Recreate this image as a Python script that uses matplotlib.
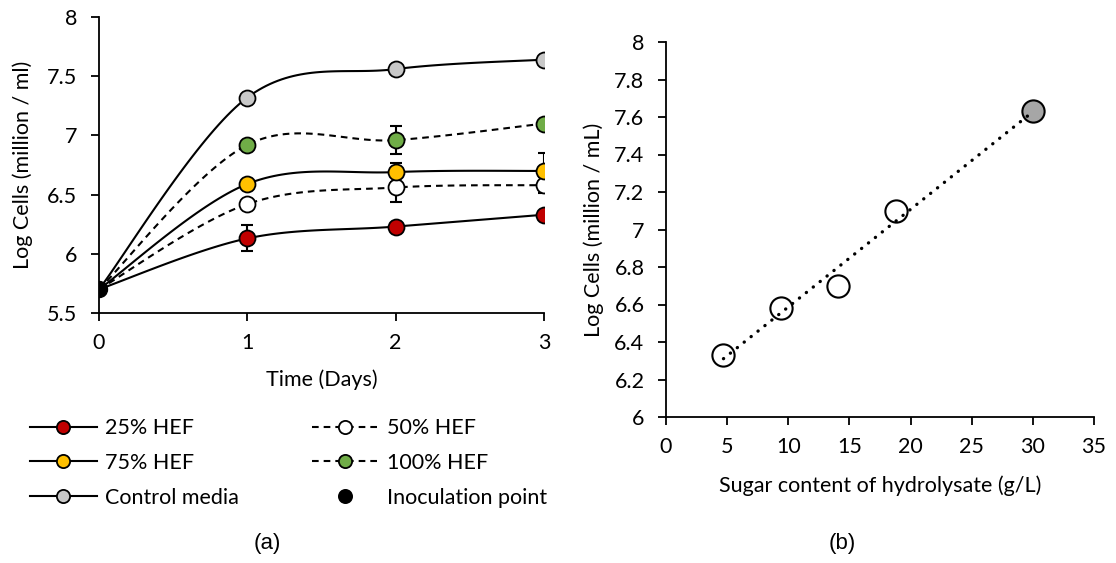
import numpy as np
import matplotlib
matplotlib.use("Agg")
import matplotlib.pyplot as plt
from matplotlib.lines import Line2D

plt.rcParams['font.family'] = ['Lato', 'DejaVu Sans']

# ---------------- data (panel a) ----------------
days = [0, 1, 2, 3]
hef25 = [5.70, 6.13, 6.23, 6.33]
hef50 = [5.70, 6.42, 6.56, 6.58]
hef75 = [5.70, 6.59, 6.69, 6.70]
hef100 = [5.70, 6.92, 6.96, 7.10]
control = [5.70, 7.32, 7.56, 7.64]
err25 = [0, 0.11, 0.02, 0.02]
err50 = [0, 0.03, 0.12, 0.07]
err75 = [0, 0.02, 0.08, 0.15]
err100 = [0, 0.02, 0.12, 0.02]
errctrl = [0, 0.02, 0.03, 0.03]
inoc_day = [0]
inoc_val = [5.70]
labels_a = ["25% HEF", "50% HEF", "75% HEF", "100% HEF", "Control media", "Inoculation point"]

# ---------------- data (panel b) ----------------
sugar = [4.7, 9.4, 14.1, 18.8, 30.0]
logcells = [6.33, 6.58, 6.70, 7.10, 7.63]

FS = 15.5
BLACK = '#000000'


def smooth(xs, ys, n=40):
    pts = np.column_stack([xs, ys]).astype(float)
    P = np.vstack([pts[0], pts, pts[-1]])
    out = []
    t = np.linspace(0, 1, n)[:, None]
    for i in range(len(pts) - 1):
        p0, p1, p2, p3 = P[i], P[i + 1], P[i + 2], P[i + 3]
        c1 = p1 + (p2 - p0) / 6.0
        c2 = p2 - (p3 - p1) / 6.0
        seg = ((1 - t) ** 3) * p1 + 3 * ((1 - t) ** 2) * t * c1 + 3 * (1 - t) * t ** 2 * c2 + t ** 3 * p2
        out.append(seg if i == 0 else seg[1:])
    s = np.vstack(out)
    return s[:, 0], s[:, 1]


fig = plt.figure(figsize=(11.16, 5.63), dpi=100)
axA = fig.add_axes([99 / 1116, 1 - 313 / 563, 445 / 1116, 296 / 563])
axB = fig.add_axes([666 / 1116, 1 - 417 / 563, 428 / 1116, 375 / 563])

DASH = (0, (3.2, 2.4))
series = [
    (hef25, err25, '#C00000', '-'),
    (hef50, err50, '#FFFFFF', DASH),
    (hef75, err75, '#FFC000', '-'),
    (hef100, err100, '#70AD47', DASH),
    (control, errctrl, '#C8C8C8', '-'),
]
for vals, err, col, ls in series:
    sx, sy = smooth(days, vals)
    axA.plot(sx, sy, color=BLACK, lw=1.5, ls=ls, zorder=2)
for vals, err, col, ls in series:
    ecol = '#4472C4' if col == '#C8C8C8' else BLACK
    axA.errorbar(days[1:], vals[1:], yerr=err[1:], fmt='none', ecolor=ecol,
                 elinewidth=1.5, capsize=4, capthick=1.5, zorder=3)
    axA.plot(days[1:], vals[1:], ls='none', marker='o', ms=11.5, mfc=col,
             mec=BLACK, mew=1.3, zorder=4)
axA.plot(inoc_day, inoc_val, ls='none', marker='o', ms=11.5, mfc=BLACK, mec=BLACK, zorder=5)

axA.set_xlim(0, 3)
axA.set_ylim(5.5, 8)
axA.set_xticks([0, 1, 2, 3])
axA.set_yticks(np.arange(5.5, 8.01, 0.5))
axA.set_yticklabels([f"{v:g}" for v in np.arange(5.5, 8.01, 0.5)])
axA.set_xlabel("Time (Days)", fontsize=FS, labelpad=12)
axA.set_ylabel("Log Cells (million / ml)", fontsize=FS, labelpad=10)

# panel b
axB.plot(sugar[:-1], logcells[:-1], ls='none', marker='o', ms=16, mfc='white',
         mec=BLACK, mew=1.5, zorder=3)
axB.plot(sugar[-1:], logcells[-1:], ls='none', marker='o', ms=16, mfc='#A6A6A6',
         mec=BLACK, mew=1.5, zorder=3)
coef = np.polyfit(sugar, logcells, 1)
tx = np.array([min(sugar), max(sugar)])
axB.plot(tx, np.polyval(coef, tx), color=BLACK, lw=2.4, ls=(0, (0.05, 2.6)),
         dash_capstyle='round', zorder=4)
axB.set_xlim(0, 35)
axB.set_ylim(6, 8)
axB.set_xticks(np.arange(0, 36, 5))
yt = np.round(np.arange(6, 8.01, 0.2), 1)
axB.set_yticks(yt)
axB.set_yticklabels([f"{v:g}" for v in yt])
axB.set_xlabel("Sugar content of hydrolysate (g/L)", fontsize=FS, labelpad=13)
axB.set_ylabel("Log Cells (million / mL)", fontsize=FS, labelpad=7)

for ax in (axA, axB):
    for s in ('top', 'right'):
        ax.spines[s].set_visible(False)
    for s in ('left', 'bottom'):
        ax.spines[s].set_linewidth(1.3)
        ax.spines[s].set_color(BLACK)
    ax.tick_params(direction='out', length=5.5, width=1.3, labelsize=FS, colors=BLACK)
    ax.tick_params(axis='x', pad=9)
    ax.tick_params(axis='y', pad=10)
    ax.patch.set_alpha(0)

# legend
def h(col, ls, line=True):
    return Line2D([0], [0], color=BLACK, lw=1.5 if line else 0, ls=ls if line else 'none',
                  marker='o', ms=9.5, mfc=col, mec=BLACK, mew=1.3)

h1 = [h('#C00000', '-'), h('#FFC000', '-'), h('#C8C8C8', '-')]
l1 = [labels_a[0], labels_a[2], labels_a[4]]
h2 = [h('#FFFFFF', DASH), h('#70AD47', DASH), h(BLACK, '-', line=False)]
l2 = [labels_a[1], labels_a[3], labels_a[5]]
common = dict(loc='center left', frameon=False, fontsize=FS, borderpad=0, borderaxespad=0,
              handlelength=3.1, handletextpad=0.4, labelspacing=0.68)
fig.legend(h1, l1, bbox_to_anchor=(30 / 1116, 1 - 463 / 563), **common)
fig.legend(h2, l2, bbox_to_anchor=(312 / 1116, 1 - 463 / 563), **common)

fig.text(267 / 1116, 1 - 544 / 563, "(a)", ha='center', va='center', fontsize=16,
         family=['Liberation Sans'])
fig.text(842 / 1116, 1 - 544 / 563, "(b)", ha='center', va='center', fontsize=16,
         family=['Liberation Sans'])

fig.savefig("out.png", dpi=100, facecolor='white')
